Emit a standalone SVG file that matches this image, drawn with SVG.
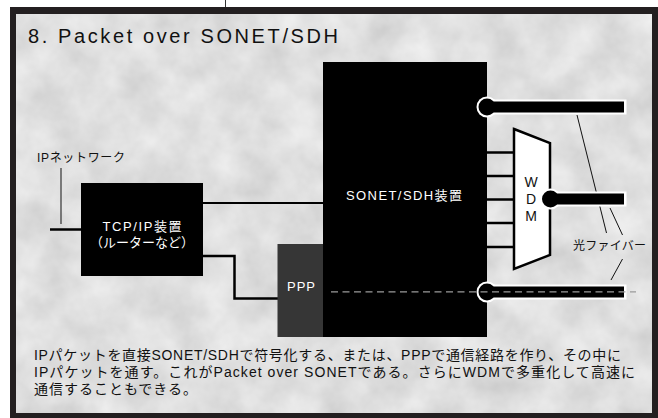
<svg xmlns="http://www.w3.org/2000/svg" width="658" height="418" viewBox="0 0 658 418">
<defs>
<filter id="tex" x="0" y="0" width="100%" height="100%">
<feTurbulence type="fractalNoise" baseFrequency="0.025" numOctaves="4" seed="7"/>
<feColorMatrix type="matrix" values="0.32 0 0 0 0.58  0.32 0 0 0 0.58  0.32 0 0 0 0.58  0 0 0 0 1"/>
</filter>
<style>
.t{font-family:"Liberation Sans","Noto Sans CJK JP",sans-serif}
.w{fill:#fff}
.k{fill:#111}
.ln{stroke:#000;stroke-width:2.5;fill:none}
.thin{stroke:#111;stroke-width:1;fill:none}
</style>
</defs>
<rect width="658" height="418" fill="#fff"/>
<line x1="225.5" y1="0" x2="225.5" y2="8" stroke="#333" stroke-width="1"/>
<rect x="10" y="7" width="648" height="411" fill="#231f20"/>
<rect x="16.5" y="14" width="635.5" height="399" filter="url(#tex)"/>
<text class="t k" x="28" y="43" font-size="20" textLength="310" lengthAdjust="spacing" fill="#1a1a1a">8. Packet over SONET/SDH</text>

<g id="connectors">
<line x1="61" y1="168" x2="61" y2="224" stroke="#333" stroke-width="1.2"/>
<line class="ln" x1="50" y1="229.5" x2="82" y2="229.5"/>
<line x1="202" y1="203" x2="324" y2="203" stroke="#000" stroke-width="2.2"/>
<path class="ln" d="M202,256 H234.5 V298.5 H278"/>
<g class="ln">
<line x1="486" y1="152.5" x2="515" y2="152.5"/>
<line x1="486" y1="176" x2="515" y2="176"/>
<line x1="486" y1="199.5" x2="515" y2="199.5"/>
<line x1="486" y1="223" x2="515" y2="223"/>
<line x1="486" y1="247" x2="515" y2="247"/>
</g>
<g class="thin">
<line x1="577" y1="115" x2="606.5" y2="233"/>
<line x1="610" y1="208" x2="622.5" y2="235"/>
<line x1="622.5" y1="259" x2="611" y2="280"/>
</g>
</g>

<g id="ipnet">
<text class="t k" x="37" y="162" font-size="12" textLength="88" lengthAdjust="spacing">IPネットワーク</text>
</g>

<g id="tcp">
<rect x="81" y="183" width="122" height="93" fill="#000"/>
<text class="t w" x="142" y="231" font-size="13" text-anchor="middle" textLength="79" lengthAdjust="spacing">TCP/IP装置</text>
<text class="t w" x="142" y="246.5" font-size="13" text-anchor="middle">（ルーターなど）</text>
</g>

<g id="sonet">
<rect x="323" y="62" width="164" height="275" fill="#000"/>
<text class="t w" x="346" y="200" font-size="13" textLength="116" lengthAdjust="spacing">SONET/SDH装置</text>
</g>

<g id="ppp">
<rect x="277.5" y="244" width="45.5" height="93" fill="#363636"/>
<text class="t w" x="301" y="291" font-size="13" text-anchor="middle" textLength="28" lengthAdjust="spacing" fill="#eee">PPP</text>
</g>

<g id="wdm">
<polygon points="514,129 550,143 550,255 514,269" fill="#fff" stroke="#000" stroke-width="2.5" stroke-linejoin="miter"/>
<text class="t k" x="531" y="186.5" font-size="14" text-anchor="middle">W</text>
<text class="t k" x="531" y="203.5" font-size="14" text-anchor="middle">D</text>
<text class="t k" x="531" y="220.5" font-size="14" text-anchor="middle">M</text>
</g>

<g id="fiber1">
<circle cx="487" cy="107" r="10.5" fill="#fff"/>
<rect x="487" y="99.5" width="139.5" height="15" fill="#fff"/>
<circle cx="487" cy="107" r="8.5" fill="#000"/>
<rect x="487" y="101.5" width="137" height="11" fill="#000"/>
</g>

<g id="fiber2">
<circle cx="550.5" cy="199" r="10.5" fill="#fff"/>
<rect x="550.5" y="191.5" width="76" height="15" fill="#fff"/>
<circle cx="550.5" cy="199" r="8.5" fill="#000"/>
<rect x="550.5" y="193.5" width="73.5" height="11" fill="#000"/>
</g>

<g id="fiber3">
<circle cx="487" cy="292" r="10.5" fill="#fff"/>
<rect x="487" y="284.5" width="139.5" height="15" fill="#fff"/>
<circle cx="487" cy="292" r="8.5" fill="#000"/>
<rect x="487" y="286.5" width="137" height="11" fill="#000"/>
<line x1="331" y1="291.8" x2="636" y2="291.8" stroke="#9a9a9a" stroke-width="1.2" stroke-dasharray="7,4.5"/>
</g>

<g id="fiberlabel">
<text class="t k" x="573" y="250" font-size="12" textLength="73" lengthAdjust="spacing">光ファイバー</text>
</g>

<g id="caption">
<text class="t k" x="34" y="360" font-size="14" textLength="587" lengthAdjust="spacing">IPパケットを直接SONET/SDHで符号化する、または、PPPで通信経路を作り、その中に</text>
<text class="t k" x="34" y="377" font-size="14" textLength="601" lengthAdjust="spacing">IPパケットを通す。これがPacket over SONETである。さらにWDMで多重化して高速に</text>
<text class="t k" x="34" y="394" font-size="14" textLength="163" lengthAdjust="spacing">通信することもできる。</text>
</g>
</svg>
